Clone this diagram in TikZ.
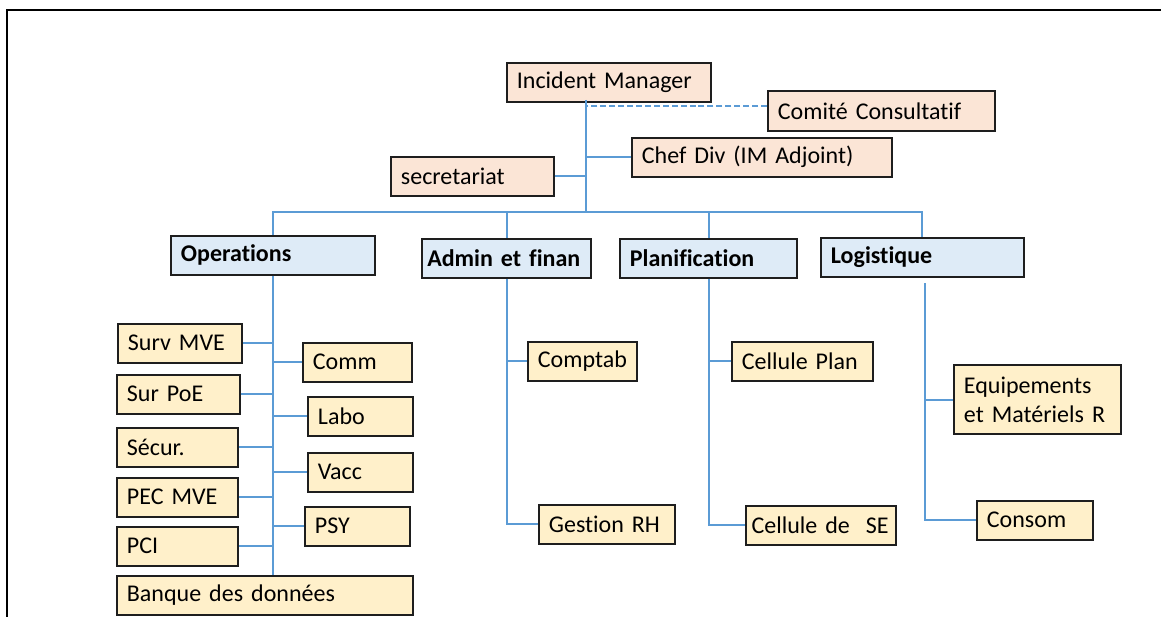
\documentclass[tikz,border=0pt]{standalone}
\usepackage{fontspec}
\setmainfont{Carlito}[Ligatures=NoCommon]
\usetikzlibrary{calc}

\definecolor{peach}{RGB}{251,229,214}
\definecolor{paleblue}{RGB}{222,235,247}
\definecolor{paleyellow}{RGB}{255,240,202}
\definecolor{linkblue}{RGB}{91,155,213}
\definecolor{edge}{RGB}{30,30,30}

\tikzset{
  box/.style={draw=edge, line width=1.4pt, anchor=north west, align=left,
    inner xsep=7.5pt, inner ysep=0pt, minimum height=29pt, text width=#1,
    font=\fontsize{18}{22}\selectfont},
  topbox/.style={box=#1, fill=peach},
  headbox/.style={box=#1, fill=paleblue, font=\fontsize{18}{22}\selectfont\bfseries},
  unitbox/.style={box=#1, fill=paleyellow},
  link/.style={draw=linkblue, line width=1.5pt},
}

\begin{document}
\begin{tikzpicture}[x=0.75pt,y=0.75pt,yscale=-1,xscale=1]
\useasboundingbox (0,0) rectangle (1161,617);

        %Frame
        \draw [line width=1.5pt] (7,617) -- (7,10) -- (1161,10) ;

        %Shape: Box [top]
        \node [topbox=138pt] (im) at (506,62) {Incident Manager};
        \node [topbox=155pt, minimum height=30pt] (comite) at (767,90) {Comité Consultatif};
        \node [topbox=180pt] (chef) at (631,137) {Chef Div (IM Adjoint)};
        \node [topbox=107pt] (secr) at (390,156) {secretariat};

        %Shape: Box [heads]
        \node [headbox=138pt] (ops) at (170,235) {Operations};
        \node [headbox=119pt, inner xsep=4pt] (admin) at (421,238) {Admin et finan};
        \node [headbox=118pt] (plan) at (619,238) {Planification};
        \node [headbox=137pt] (logi) at (820,237) {Logistique};

        %Shape: Box [operations]
        \node [unitbox=78pt] (survmve) at (117,323) {Surv MVE};
        \node [unitbox=77pt] (surpoe) at (116,374) {Sur PoE};
        \node [unitbox=76pt] (secur) at (116,427) {Sécur.};
        \node [unitbox=76pt] (pecmve) at (116,477) {PEC MVE};
        \node [unitbox=76pt] (pci) at (116,526) {PCI};
        \node [unitbox=207pt] (banque) at (116,575) {Banque des données};
        \node [unitbox=67pt] (comm) at (302,342) {Comm};
        \node [unitbox=64pt] (labo) at (307,396) {Labo};
        \node [unitbox=64pt] (vacc) at (307,452) {Vacc};
        \node [unitbox=64pt] (psy) at (304,506) {PSY};

        %Shape: Box [admin, planification, logistique]
        \node [unitbox=67pt] (comptab) at (527,341) {Comptab};
        \node [unitbox=87pt] (gestrh) at (538,504) {Gestion RH};
        \node [unitbox=91pt] (cplan) at (731,341) {Cellule Plan};
        \node [unitbox=104pt, inner xsep=4.2pt] (cse) at (745,505) {Cellule de~ SE};
        \node [unitbox=110pt, minimum height=52pt] (equip) at (953,364) {Equipements\\et Matériels R};
        \node [unitbox=72pt] (consom) at (976,500) {Consom};

        %Straight Lines [top]
        \coordinate (spine) at (586,100);
        \coordinate (bar) at (586,212);
        \draw [link, line width=2.2pt] (spine) -- (bar) ;
        \draw [link, dash pattern=on 4.5pt off 2.2pt, line width=1.2pt] ([yshift=-3.75pt]comite.west) -- ([yshift=-3.75pt]comite.west -| spine) ;
        \draw [link] (chef.west) -- (chef.west -| spine) ;
        \draw [link] (secr.east) -- (secr.east -| spine) ;
        \draw [link] (ops.north) -- (ops.north |- bar) -- (logi.north |- bar) -- (logi.north) ;
        \draw [link] (admin.north |- bar) -- (admin.north) ;
        \draw [link] (plan.north |- bar) -- (plan.north) ;

        %Straight Lines [operations]
        \draw [link] (ops.south) -- (ops.south |- banque.north) ;
        \foreach \unit in {survmve,surpoe,secur,pecmve,pci}
          \draw [link] (\unit.east) -- (\unit.east -| ops.south) ;
        \foreach \unit in {comm,labo,vacc,psy}
          \draw [link] (\unit.west) -- (\unit.west -| ops.south) ;

        %Straight Lines [others]
        \draw [link] (admin.south) |- (gestrh.west) ;
        \draw [link] (comptab.west) -- (comptab.west -| admin.south) ;
        \draw [link] (plan.south) |- (cse.west) ;
        \draw [link] (cplan.west) -- (cplan.west -| plan.south) ;
        \coordinate (logtop) at (925,283);
        \draw [link] (logtop) |- (consom.west) ;
        \draw [link] (equip.west) -- (equip.west -| logtop) ;

\end{tikzpicture}
\end{document}
